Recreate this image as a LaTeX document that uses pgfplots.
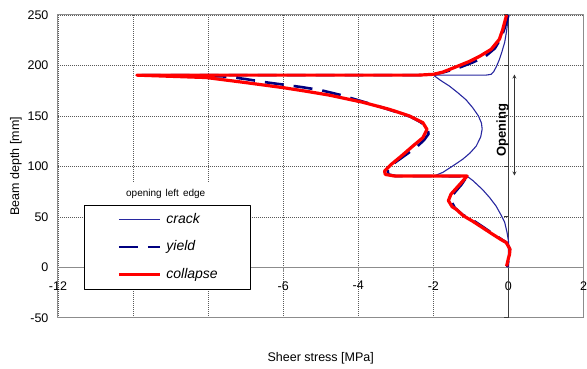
\documentclass[border=0pt]{standalone}
\usepackage{fontspec}
\setmainfont{Liberation Sans}
\usepackage{pgfplots}
\pgfplotsset{compat=1.18}

\definecolor{crackblue}{RGB}{40,40,160}
\definecolor{yieldnavy}{RGB}{0,0,128}
\definecolor{gridgray}{RGB}{90,90,90}
\definecolor{framegray}{RGB}{140,140,140}
\definecolor{zeroaxis}{RGB}{60,60,60}

\begin{document}
\begin{tikzpicture}
\begin{axis}[
  width=526pt, height=303pt, scale only axis,
  xmin=-12, xmax=2, ymin=-50, ymax=250,
  xtick={-12,-10,...,2}, ytick={-50,0,...,250},
  % the labels at -10 and -8 sit under the legend box
  xticklabels={-12,,,-6,-4,-2,0,2},
  grid=major,
  major grid style={gridgray, line width=0.6pt, dash pattern=on 1pt off 1pt},
  axis line style={framegray, line width=1pt},
  major tick length=0pt,
  no markers,
  line join=round,
  /pgf/number format/assume math mode=true,
  tick label style={font=\fontsize{12.5}{14}\selectfont},
  xticklabel style={yshift=40pt, inner xsep=0pt},
  yticklabel style={xshift=-6pt},
  xlabel={Sheer stress [MPa]},
  ylabel={Beam depth [mm]},
  label style={font=\fontsize{12.5}{14}\selectfont},
  xlabel style={at={(axis description cs:0.5,-0.134)}, anchor=center},
  ylabel style={at={(axis description cs:-0.080,0.5)}, anchor=center},
  legend style={
    at={(axis description cs:0.0494,0.373)}, anchor=north west,
    draw=black, line width=0.8pt, fill=white,
    font=\fontsize{14}{16}\selectfont\itshape,
    inner xsep=33pt, inner ysep=8pt,
    row sep=14.5pt,
    nodes={inner sep=0pt, text height=10pt, text depth=3pt},
    /tikz/every odd column/.append style={column sep=5pt},
  },
  legend cell align=left,
  legend image code/.code={\draw[#1] (0pt,0pt) -- (41pt,0pt);},
]
% axes through the origin
\draw[zeroaxis, line width=1.2pt] (axis cs:0,-50) -- (axis cs:0,250);
\draw[framegray, line width=1pt] (axis cs:-12,0) -- (axis cs:2,0);
\pgfplotsinvokeforeach{-12,-10,-8,-6,-4,-2,2}{
  \draw[framegray, line width=1pt] (axis cs:#1,0) -- ++(0pt,-5pt);
}
\pgfplotsinvokeforeach{-50,50,100,150,200,250}{
  \draw[zeroaxis, line width=1pt] (axis cs:0,#1) -- ++(-4pt,0pt);
}

% crack
\addplot[crackblue, line width=1.1pt] coordinates {
  (0,250) (-0.02,243) (-0.05,234) (-0.1,223) (-0.17,214) (-0.24,206)
  (-0.32,199) (-0.39,194) (-0.46,191.2) (-0.6,190.4) (-2.0,190.4)
  (-1.8,185) (-1.57,179.5) (-1.35,173) (-1.13,166) (-0.95,158) (-0.8,150)
  (-0.72,143) (-0.7,137) (-0.74,129) (-0.86,120) (-1.03,113) (-1.22,107)
  (-1.5,100) (-1.75,94) (-2.0,90.2) (-1.1,90.2) (-0.95,86) (-0.69,77)
  (-0.5,69) (-0.33,60.7) (-0.2,52) (-0.1,44.5) (-0.04,35) (0,26) (0,0)
};
\addlegendentry{crack}

% yield
\addplot[yieldnavy, line width=2.6pt, dash pattern=on 19pt off 10pt] coordinates {
  (0,250) (-0.05,243) (-0.12,235) (-0.2,227) (-0.36,217) (-0.63,208.5)
  (-0.95,203) (-1.3,198) (-1.65,194) (-1.95,191.3) (-2.3,190.4) (-9.8,190.4)
  (-8.6,190) (-7.5,189) (-7.0,186.5) (-6.5,183.5) (-6.0,181) (-5.5,178.5)
  (-5.0,175.5) (-4.5,171) (-4.0,165.5) (-3.5,160) (-3.0,154) (-2.6,149)
  (-2.35,144) (-2.15,138) (-2.13,132) (-2.25,126) (-2.45,119) (-2.75,111)
  (-3.05,103) (-3.22,97) (-3.2,92) (-3.0,90.4) (-1.1,90.2) (-1.25,82)
  (-1.48,72) (-1.53,66) (-1.43,59) (-1.22,52) (-0.98,47.5) (-0.7,40.5)
  (-0.42,33.5) (-0.2,28) (-0.05,24.5) (0.04,18) (0.02,12) (0,8) (-0.03,0)
};
\addlegendentry{yield}

% collapse
\addplot[red, line width=3.2pt] coordinates {
  (-0.05,250) (-0.1,243) (-0.15,236) (-0.24,226) (-0.46,216) (-0.77,209)
  (-1.04,204) (-1.39,198.7) (-1.75,193.4) (-2.0,191.2) (-2.4,190.4)
  (-9.9,190.4) (-8.05,188) (-7.0,183) (-6.0,178) (-5.4,174.5) (-4.76,170.5)
  (-3.88,163.5) (-3.17,156.5) (-2.64,150) (-2.28,143.3) (-2.17,136.6)
  (-2.28,128.4) (-2.55,120) (-2.86,110) (-3.12,102) (-3.3,95.3) (-3.28,92)
  (-3.05,90.5) (-2.5,90.4) (-1.1,90.4) (-1.3,82) (-1.53,72.5) (-1.6,66)
  (-1.5,60) (-1.39,57.4) (-1.2,51) (-0.96,45.8) (-0.7,39.5) (-0.42,32.7)
  (-0.2,27.5) (-0.06,24.5) (0.04,18) (0.03,13) (0,9) (-0.05,1)
};
\addlegendentry{collapse}

% annotations
\node[fill=white, minimum width=92pt, minimum height=23pt, inner sep=0pt,
      font=\fontsize{10}{12}\selectfont]
  at (axis cs:-9.13,72.8) {opening\hspace{0.4em}left\hspace{0.4em}edge};
\draw[black!80, line width=0.8pt, <->, >=stealth] (axis cs:0.16,91) -- (axis cs:0.16,191);
\node[rotate=90, font=\fontsize{13}{15}\selectfont\bfseries] at (axis cs:-0.16,136) {Opening};

\coordinate (bl) at (rel axis cs:0,0);
\coordinate (tr) at (rel axis cs:1,1);
\end{axis}
\path ([shift={(-58pt,-51pt)}]bl) rectangle ([shift={(3pt,15pt)}]tr);
\end{tikzpicture}
\end{document}
